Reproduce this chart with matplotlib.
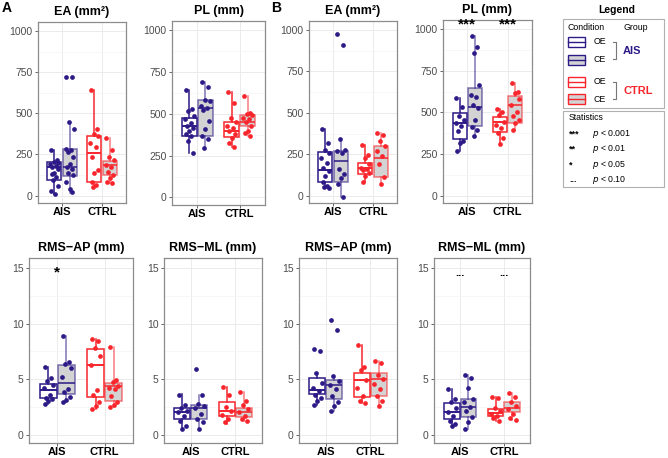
import numpy as np
import matplotlib
matplotlib.use("Agg")
import matplotlib.pyplot as plt
from matplotlib.patches import Rectangle

plt.rcParams['font.family'] = ['Liberation Sans', 'DejaVu Sans']

W, H = 668, 458

AIS_COL = '#2E1A87'
CTRL_COL = '#F8262C'
CE_FILL = '#D3D3D3'

groups = ['AIS', 'CTRL']
conditions = ['OE', 'CE']

# point values per box, order: AIS-OE, AIS-CE, CTRL-OE, CTRL-CE
ea_a_pts = [[277, 215, 205, 200, 190, 180, 175, 160, 140, 130, 115, 95, 60, 25, 10],
            [720, 722, 445, 405, 285, 275, 265, 235, 195, 175, 160, 140, 125, 85, 40, 20],
            [640, 405, 375, 360, 320, 295, 235, 155, 140, 85, 65, 55],
            [348, 277, 237, 217, 186, 176, 146, 125, 105, 85, 75]]
pl_a_pts = [[642, 527, 517, 487, 467, 447, 427, 417, 398, 378, 368, 338, 268],
            [692, 662, 582, 577, 547, 533, 521, 457, 408, 368, 348, 298],
            [632, 567, 477, 453, 427, 413, 398, 378, 358, 328, 304],
            [606, 507, 501, 491, 477, 467, 453, 427, 398, 388, 368]]
ea_b_pts = [[400, 317, 277, 257, 228, 198, 168, 149, 119, 79, 59, 50, 44],
            [974, 911, 343, 277, 267, 257, 158, 129, 109, 69, -10],
            [307, 248, 228, 188, 168, 158, 152, 139, 119, 79],
            [380, 366, 327, 297, 267, 238, 188, 113, 69]]
pl_b_pts = [[588, 535, 475, 455, 436, 420, 386, 327, 317, 267],
            [960, 895, 855, 663, 604, 590, 545, 525, 455, 410, 396, 356],
            [519, 505, 485, 440, 426, 406, 376, 346, 311],
            [677, 624, 614, 580, 545, 505, 475, 455, 436, 396]]
ap_a_pts = [[6.1, 5.1, 4.8, 4.5, 4.2, 3.6, 3.3, 3.2, 3.0, 2.8],
            [8.84, 6.5, 6.4, 6.0, 5.2, 4.1, 3.8, 3.4, 3.1, 2.9],
            [8.6, 8.45, 7.8, 7.1, 6.3, 4.0, 3.6, 2.9, 2.6, 2.3],
            [7.9, 4.9, 4.7, 4.4, 4.2, 4.1, 3.5, 2.9, 2.7, 2.5]]
ml_a_pts = [[3.6, 2.7, 2.4, 2.1, 2.0, 1.7, 1.25, 0.8, 0.5],
            [5.95, 3.54, 2.74, 2.6, 2.44, 1.85, 1.4, 1.1, 0.5],
            [4.3, 3.6, 2.5, 2.1, 1.8, 1.4, 1.1],
            [3.8, 3.0, 2.7, 2.3, 2.0, 1.7, 1.4, 1.25]]
ap_b_pts = [[7.7, 7.5, 5.56, 4.67, 4.2, 3.9, 3.6, 3.33, 3.0, 2.7],
            [10.3, 9.4, 5.3, 4.8, 4.5, 4.1, 3.5, 2.9, 2.6, 2.1],
            [8.1, 6.07, 5.86, 4.9, 4.2, 3.5, 3.0, 2.83],
            [6.67, 6.46, 5.4, 5.0, 4.6, 4.1, 3.5, 3.0, 2.6]]
ml_b_pts = [[4.08, 3.2, 2.9, 2.44, 2.0, 1.7, 1.25, 0.95, 0.8],
            [5.33, 5.1, 4.2, 3.2, 2.9, 2.5, 2.1, 1.55, 1.1, 0.5],
            [3.4, 3.27, 2.44, 2.14, 1.85, 1.7, 1.5, 1.2],
            [3.78, 3.4, 2.9, 2.6, 2.3, 1.9, 1.5, 1.3]]

# box stats: [whisker low, q1, median, q3, whisker high]
ea_a_box = [[10, 95, 176, 202, 277], [18, 119, 172, 281, 445],
            [55, 81, 261, 362, 640], [75, 123, 184, 212, 348]]
pl_a_box = [[268, 368, 427, 477, 642], [298, 368, 533, 580, 692],
            [304, 362, 398, 453, 632], [368, 427, 453, 491, 606]]
ea_b_box = [[44, 83, 154, 263, 400], [-10, 83, 206, 271, 343],
            [79, 133, 168, 194, 307], [69, 112, 230, 301, 380]]
pl_b_box = [[267, 341, 436, 495, 588], [356, 416, 535, 644, 960],
            [311, 380, 440, 471, 519], [396, 436, 543, 600, 677]]
ap_a_box = [[2.8, 3.27, 4.05, 4.58, 6.1], [2.9, 3.63, 4.64, 6.25, 8.84],
            [2.3, 3.4, 6.3, 7.74, 8.6], [2.5, 3.04, 4.37, 4.64, 7.9]]
ml_a_box = [[0.5, 1.43, 2.05, 2.44, 3.63], [0.5, 1.4, 2.38, 2.68, 3.54],
            [1.0, 1.7, 2.14, 2.9, 4.3], [1.25, 1.6, 2.0, 2.38, 3.8]]
ap_b_box = [[2.7, 3.69, 4.0, 5.12, 5.56], [2.1, 3.18, 4.5, 4.9, 5.3],
            [2.83, 3.42, 4.9, 5.54, 8.1], [2.6, 3.45, 5.0, 5.54, 6.67]]
ml_b_box = [[0.8, 1.43, 2.0, 2.83, 4.08], [0.5, 1.55, 2.53, 3.18, 5.33],
            [1.2, 1.7, 1.96, 2.3, 3.4], [1.3, 2.08, 2.38, 2.9, 3.78]]

# significance marks: (group index, label)
pl_b_sig = [(0, '***'), (1, '***')]
ap_a_sig = [(0, '*')]
ml_b_sig = [(0, '...'), (1, '...')]

stat_marks = ['***', '**', '*', '...']
stat_levels = ['0.001', '0.01', '0.05', '0.10']

JIT = [-0.08, 0.06, -0.02, 0.1, -0.1, 0.03, -0.05, 0.08, 0.0, -0.07, 0.05, -0.03, 0.09, -0.09, 0.02, 0.07]


def px_axes(fig, x0, y0, x1, y1):
    return fig.add_axes([x0 / W, 1 - y1 / H, (x1 - x0) / W, (y1 - y0) / H])


def panel(ax, title, pts, boxes, top_row, sig=None):
    dodge = 0.19
    bw = 0.35
    for i, (p, b) in enumerate(zip(pts, boxes)):
        g = i // 2
        c = i % 2
        col = AIS_COL if g == 0 else CTRL_COL
        pos = g + 1 + (-dodge if c == 0 else dodge)
        stats = [dict(whislo=b[0], q1=b[1], med=b[2], q3=b[3], whishi=b[4], fliers=[])]
        ealpha = 1.0 if c == 0 else 0.6
        fc = 'white' if c == 0 else CE_FILL
        ax.bxp(stats, positions=[pos], widths=bw, patch_artist=True, showcaps=False,
               boxprops=dict(facecolor=fc, edgecolor=matplotlib.colors.to_rgba(col, ealpha), linewidth=1.1),
               medianprops=dict(color=matplotlib.colors.to_rgba(col, max(ealpha, 0.8)), linewidth=1.4),
               whiskerprops=dict(color=matplotlib.colors.to_rgba(col, ealpha), linewidth=1.1),
               manage_ticks=False, zorder=2)
        xs = pos + np.array(JIT[:len(p)])
        ax.plot(xs, p, 'o', color=col, ms=3.4, mew=0, zorder=3)
    ax.set_xlim(0.4, 2.6)
    ax.set_xticks([1, 2])
    ax.set_xticklabels(groups, fontsize=8, fontweight='bold', color='black')
    if top_row:
        ax.set_ylim(-45, 1055)
        ax.set_yticks([0, 250, 500, 750, 1000])
        ax.set_yticks([125, 375, 625, 875], minor=True)
    else:
        ax.set_ylim(-0.75, 15.9)
        ax.set_yticks([0, 5, 10, 15])
        ax.set_yticks([2.5, 7.5, 12.5], minor=True)
    ax.tick_params(axis='y', labelsize=7.5, labelcolor='#4D4D4D', color='#4D4D4D', length=2.5, width=0.6, pad=1.5)
    ax.tick_params(axis='x', color='#4D4D4D', length=2.5, width=0.6, pad=0.5)
    ax.tick_params(which='minor', length=0)
    ax.grid(True, which='major', color='#EBEBEB', linewidth=0.7, zorder=0)
    ax.grid(True, which='minor', axis='y', color='#F4F4F4', linewidth=0.5, zorder=0)
    ax.set_axisbelow(True)
    for s in ax.spines.values():
        s.set_color('#8C8C8C')
        s.set_linewidth(0.9)
    ax.set_title(title, fontsize=9, fontweight='bold', pad=5)
    if sig:
        ytxt = 1030 if top_row else 14.6
        for g, lab in sig:
            if lab == '...':
                ax.text(g + 1, 14.1, lab, ha='center', va='bottom', fontsize=8, fontweight='bold')
            else:
                ax.text(g + 1, ytxt, lab, ha='center', va='center', fontsize=11, fontweight='bold')


fig = plt.figure(figsize=(W / 100, H / 100), dpi=100)

ax1 = px_axes(fig, 38, 22, 126, 203)
panel(ax1, 'EA (mm²)', ea_a_pts, ea_a_box, True)
ax2 = px_axes(fig, 172, 21, 265, 205)
panel(ax2, 'PL (mm)', pl_a_pts, pl_a_box, True)
ax3 = px_axes(fig, 309, 21, 397, 203)
panel(ax3, 'EA (mm²)', ea_b_pts, ea_b_box, True)
ax4 = px_axes(fig, 443, 20, 532, 203)
panel(ax4, 'PL (mm)', pl_b_pts, pl_b_box, True, pl_b_sig)

ax5 = px_axes(fig, 29, 258, 133, 443)
panel(ax5, 'RMS\u2212AP (mm)', ap_a_pts, ap_a_box, False, ap_a_sig)
ax6 = px_axes(fig, 164, 258, 262, 443)
panel(ax6, 'RMS\u2212ML (mm)', ml_a_pts, ml_a_box, False)
ax7 = px_axes(fig, 299, 258, 397, 443)
panel(ax7, 'RMS\u2212AP (mm)', ap_b_pts, ap_b_box, False)
ax8 = px_axes(fig, 434, 258, 530, 443)
panel(ax8, 'RMS\u2212ML (mm)', ml_b_pts, ml_b_box, False, ml_b_sig)

# overlay in pixel coordinates for panel letters and the legend
lg = fig.add_axes([0, 0, 1, 1])
lg.set_xlim(0, W)
lg.set_ylim(H, 0)
lg.axis('off')
lg.patch.set_alpha(0)

lg.text(2, 8, 'A', fontsize=10, fontweight='bold', va='center')
lg.text(271, 8, 'B', fontsize=10, fontweight='bold', va='center')

lg.text(617, 10, 'Legend', fontsize=7.5, fontweight='bold', ha='center', va='center')
lg.add_patch(Rectangle((563, 19), 101, 89, fill=False, edgecolor='#B0B0B0', linewidth=0.8))
lg.add_patch(Rectangle((563, 111), 101, 76, fill=False, edgecolor='#B0B0B0', linewidth=0.8))
lg.text(568, 27, 'Condition', fontsize=6.3, va='center')
lg.text(623, 27, 'Group', fontsize=6.3, va='center')

key_y = [42, 60, 82, 99]
for i, ky in enumerate(key_y):
    g = i // 2
    c = i % 2
    col = AIS_COL if g == 0 else CTRL_COL
    fc = 'white' if c == 0 else CE_FILL
    lg.add_patch(Rectangle((568, ky - 5), 17, 10, facecolor=fc, edgecolor=col, linewidth=1.0))
    lg.plot([568, 585], [ky, ky], color=col, linewidth=1.0)
    lg.text(594, ky, conditions[c], fontsize=6.3, va='center')

for g, (ya, yb) in enumerate([(42, 59), (82, 99)]):
    col = AIS_COL if g == 0 else CTRL_COL
    lg.plot([613, 616, 616, 613], [ya, ya, yb, yb], color='#777777', linewidth=0.8)
    lg.text(623, (ya + yb) / 2, groups[g], fontsize=8, fontweight='bold', color=col, va='center')

lg.text(569, 118, 'Statistics', fontsize=6.3, va='center')
for i, (m, lvl) in enumerate(zip(stat_marks, stat_levels)):
    yy = 134 + i * 15.3
    lg.text(569, yy, m, fontsize=6.5, fontweight='bold', va='center')
    lg.text(592, yy, '$p$ < ' + lvl, fontsize=6.3, va='center')

fig.savefig('out.png', dpi=100)
